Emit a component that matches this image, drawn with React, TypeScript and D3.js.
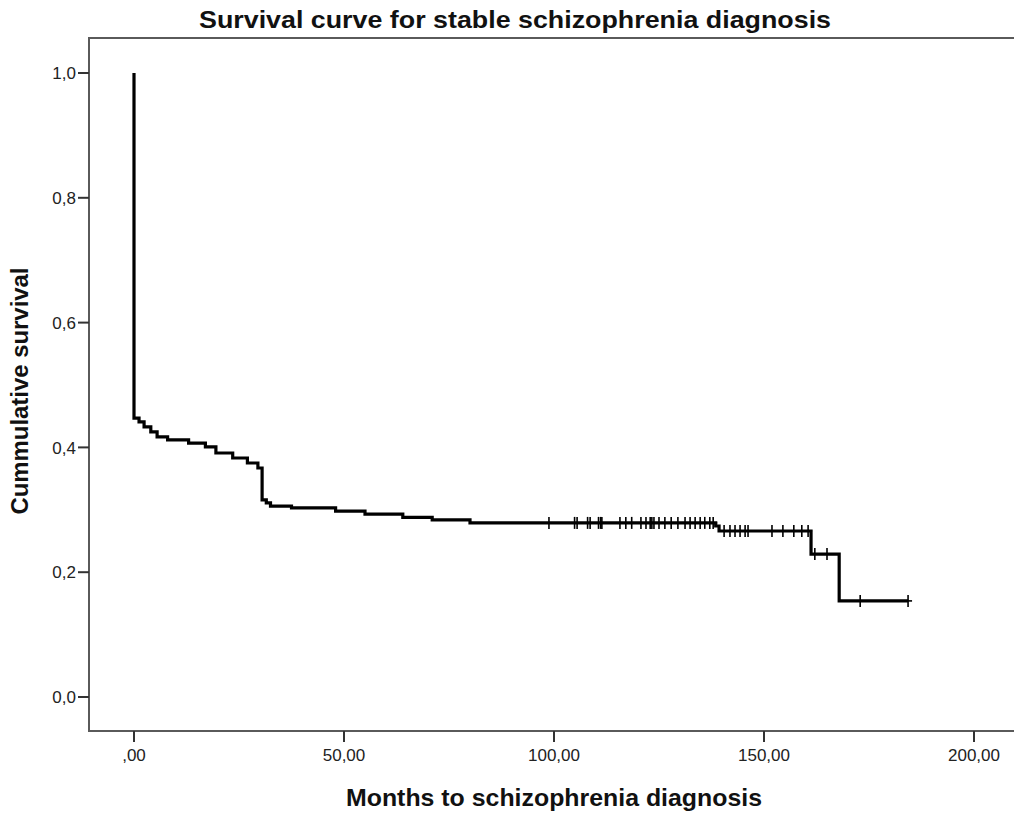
import { useEffect, useRef } from 'react';
import * as d3 from 'd3';

// Kaplan-Meier steps: time (months) at which survival drops, and survival after the drop
const eventTimes = [0, 1.2, 2.4, 4, 5.5, 8, 13, 17, 19.5, 23.5, 27, 29.5, 30.5, 31.5, 32.5, 37.5, 48, 55, 64, 71, 80, 138.5, 139.3, 161.2, 167.9];
const survival = [0.447, 0.441, 0.433, 0.425, 0.417, 0.412, 0.407, 0.401, 0.391, 0.383, 0.375, 0.367, 0.316, 0.311, 0.306, 0.303, 0.298, 0.293, 0.288, 0.284, 0.279, 0.274, 0.266, 0.229, 0.154];

// censored observations (months)
const censored = [
  98.8, 104.9, 105.5, 108.0, 108.6, 110.6, 111.1, 111.4, 115.7, 117.1, 118.5, 120.7, 121.9,
  122.9, 123.3, 123.8, 125.0, 126.4, 127.9, 129.5, 131.2, 132.4, 133.6, 134.8, 135.9, 137.1, 137.9,
  140.5, 141.9, 143.1, 144.3, 145.5, 146.2, 151.9, 154.5, 157.1, 159.0, 160.5,
  162.1, 165.0, 172.9, 184.3,
];

const xTicks = [0, 50, 100, 150, 200];
const yTicks = [0, 0.2, 0.4, 0.6, 0.8, 1.0];

const W = 1014;
const H = 814;
const FONT = '"Liberation Sans", Arial, sans-serif';

export default function App() {
  const svgRef = useRef<SVGSVGElement>(null);

  useEffect(() => {
    const svg = d3.select(svgRef.current);
    svg.selectAll('*').remove();

    const frame = { left: 89, top: 38, bottom: 731, right: 1030 };

    const x = d3.scaleLinear().domain([0, 200]).range([134, 974]);
    const y = d3.scaleLinear().domain([0, 1]).range([697, 73]);

    // SPSS style: comma decimals, leading zero dropped on the x axis
    const fmt = (v: number, digits: number) => {
      const s = v.toFixed(digits).replace('.', ',');
      return s.startsWith('0,') && digits === 2 ? s.slice(1) : s;
    };

    // frame (open on the right, runs off the picture)
    svg.append('path')
      .attr('d', `M${frame.right},${frame.top}H${frame.left}V${frame.bottom}H${frame.right}`)
      .attr('fill', 'none')
      .attr('stroke', '#5a5a5a')
      .attr('stroke-width', 2);

    // y ticks
    const yg = svg.append('g');
    yTicks.forEach((t) => {
      yg.append('line')
        .attr('x1', frame.left - 11).attr('x2', frame.left)
        .attr('y1', y(t)).attr('y2', y(t))
        .attr('stroke', '#333').attr('stroke-width', 2);
      yg.append('text')
        .attr('x', frame.left - 13).attr('y', y(t))
        .attr('dy', '0.36em')
        .attr('text-anchor', 'end')
        .attr('font-family', FONT).attr('font-size', 17)
        .attr('fill', '#222')
        .text(fmt(t, 1));
    });

    // x ticks
    const xg = svg.append('g');
    xTicks.forEach((t) => {
      xg.append('line')
        .attr('x1', x(t)).attr('x2', x(t))
        .attr('y1', frame.bottom).attr('y2', frame.bottom + 11)
        .attr('stroke', '#333').attr('stroke-width', 2);
      xg.append('text')
        .attr('x', x(t)).attr('y', 761)
        .attr('text-anchor', 'middle')
        .attr('font-family', FONT).attr('font-size', 17)
        .attr('fill', '#222')
        .text(fmt(t, 2));
    });

    // survival curve
    const pts: [number, number][] = [[0, 1]];
    eventTimes.forEach((t, i) => pts.push([t, survival[i]]));
    const lastT = d3.max(censored) as number;
    pts.push([lastT, survival[survival.length - 1]]);

    const line = d3.line<[number, number]>()
      .x((d) => x(d[0]))
      .y((d) => y(d[1]))
      .curve(d3.curveStepAfter);

    svg.append('path')
      .datum(pts)
      .attr('fill', 'none')
      .attr('stroke', '#000')
      .attr('stroke-width', 3.2)
      .attr('stroke-linejoin', 'miter')
      .attr('d', line);

    // censor marks
    const survAt = (t: number) => {
      const i = d3.bisectRight(eventTimes, t) - 1;
      return i < 0 ? 1 : survival[i];
    };
    const cg = svg.append('g').attr('stroke', '#000').attr('stroke-width', 1.6);
    censored.forEach((t) => {
      const cx = x(t);
      const cy = y(survAt(t));
      cg.append('line').attr('x1', cx).attr('x2', cx).attr('y1', cy - 6).attr('y2', cy + 6);
      cg.append('line').attr('x1', cx - 4).attr('x2', cx + 4).attr('y1', cy).attr('y2', cy);
    });

    // titles
    svg.append('text')
      .attr('x', 515).attr('y', 28)
      .attr('text-anchor', 'middle')
      .attr('font-family', FONT).attr('font-size', 24).attr('font-weight', 'bold')
      .attr('textLength', 632).attr('lengthAdjust', 'spacingAndGlyphs')
      .attr('fill', '#111')
      .text('Survival curve for stable schizophrenia diagnosis');

    svg.append('text')
      .attr('x', 554).attr('y', 806)
      .attr('text-anchor', 'middle')
      .attr('font-family', FONT).attr('font-size', 24).attr('font-weight', 'bold')
      .attr('textLength', 416).attr('lengthAdjust', 'spacingAndGlyphs')
      .attr('fill', '#111')
      .text('Months to schizophrenia diagnosis');

    svg.append('text')
      .attr('transform', `translate(28,391) rotate(-90)`)
      .attr('text-anchor', 'middle')
      .attr('font-family', FONT).attr('font-size', 24).attr('font-weight', 'bold')
      .attr('textLength', 247).attr('lengthAdjust', 'spacingAndGlyphs')
      .attr('fill', '#111')
      .text('Cummulative survival');
  }, []);

  return (
    <svg
      ref={svgRef}
      width={W}
      height={H}
      style={{ position: 'absolute', left: 0, top: 0, background: '#fff' }}
    />
  );
}
